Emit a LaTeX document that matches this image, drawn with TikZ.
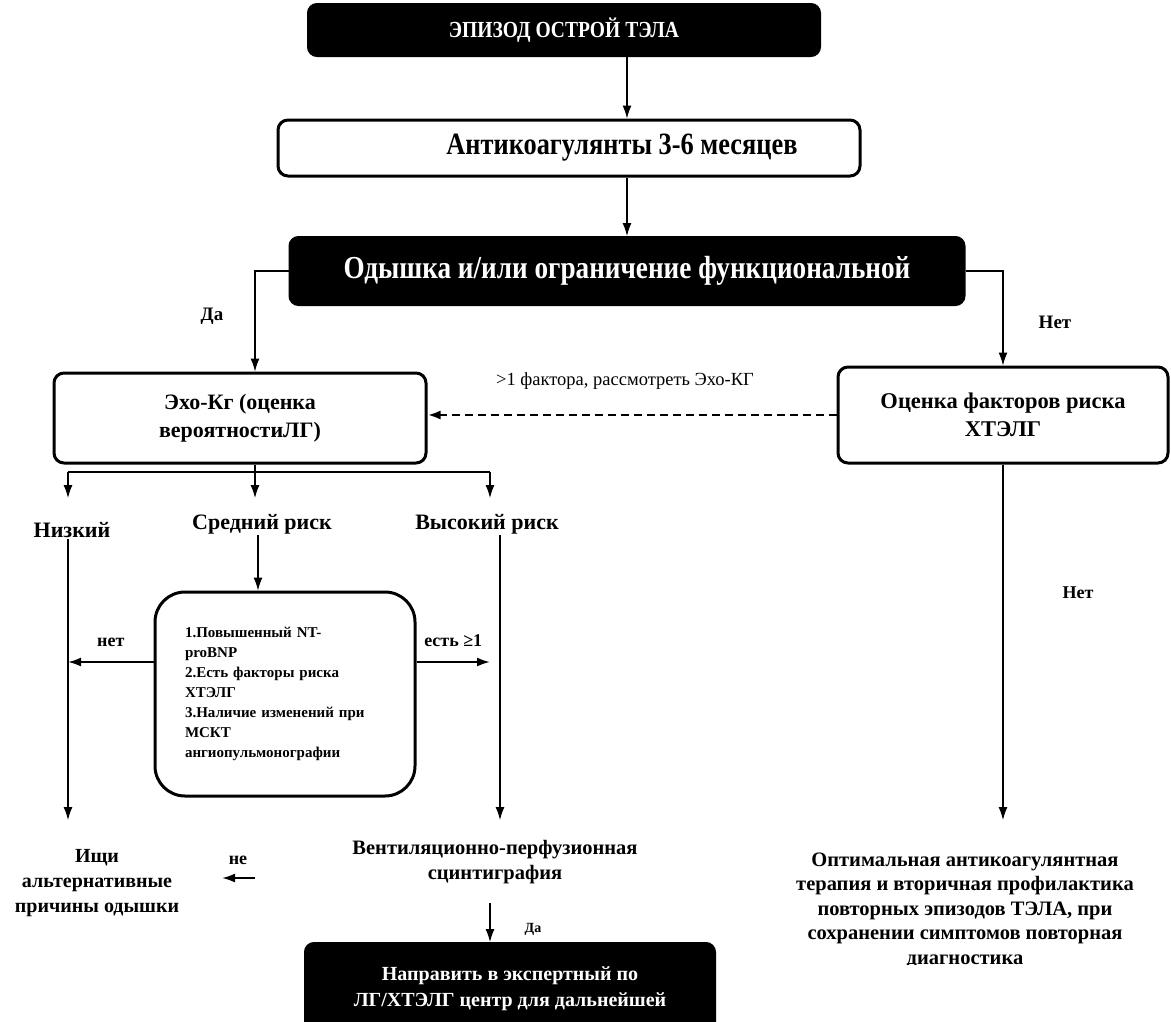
\documentclass[tikz,border=0pt]{standalone}
\usepackage{fontspec}
\setmainfont{Liberation Serif}
\newfontfamily\narrowfont{Liberation Serif}[FakeStretch=0.85]
\usetikzlibrary{calc,arrows.meta,positioning}

\begin{document}
\begin{tikzpicture}[x=1pt,y=-1pt,
  blackbox/.style={draw,fill=black,text=white,rounded corners=9pt,line width=2pt,align=center},
  whitebox/.style={draw,rounded corners=10pt,line width=3pt,align=center},
  arr/.style={-{Latex[length=13pt,width=9pt]},line width=1.2pt},
  lbl/.style={align=center,inner sep=1pt}]
  \useasboundingbox (0,0) rectangle (1171,1021);
  \clip (0,0) rectangle (1171,1021);

  %% Columns and rows used by the connectors
  \coordinate (spine) at (627,0);
  \coordinate (yesx)  at (255,0);
  \coordinate (nox)   at (1003,0);
  \coordinate (midx)  at (258,0);
  \coordinate (ventx) at (490,0);
  \coordinate (sider) at (0,662);

  %% Top of the chart
  \node[blackbox,minimum width=512,minimum height=52,font=\fontsize{23}{26}\selectfont\narrowfont\bfseries] (tela) at (564,30) {ЭПИЗОД ОСТРОЙ ТЭЛА};
  \node[whitebox,minimum width=582,minimum height=56] (anti) at (569,148) {};
  \node[lbl,font=\fontsize{31}{33}\selectfont\narrowfont\bfseries] (antitext) at (622,148) {Антикоагулянты 3-6 месяцев};
  \node[blackbox,minimum width=675,minimum height=68,font=\fontsize{32}{34}\selectfont\narrowfont\bfseries] (dysp) at (627,271) {Одышка и/или ограничение функциональной};
  \draw[arr] (tela.south -| spine) -- (anti.north -| spine);
  \draw[arr] (anti.south -| spine) -- (dysp.north -| spine);

  %% Yes / no branches
  \node[whitebox,minimum width=372,minimum height=90,font=\fontsize{22}{28}\selectfont\bfseries] (echo) at (240,418) {Эхо-Кг (оценка\\вероятностиЛГ)};
  \node[whitebox,minimum width=330,minimum height=96,font=\fontsize{22.5}{28}\selectfont\bfseries] (risk) at (1003,415) {Оценка факторов риска\\ХТЭЛГ};
  \draw[arr] (dysp.west) -| (echo.north -| yesx);
  \draw[arr] (dysp.east) -| (risk.north -| nox);
  \node[lbl,font=\fontsize{19}{20}\selectfont\bfseries] (da1) at (212,316) {Да};
  \node[lbl,font=\fontsize{19}{20}\selectfont\bfseries] (net1) at (1055,322) {Нет};
  \draw[arr,dash pattern=on 8pt off 5pt,line width=2.5pt] (risk.west) -- (risk.west -| echo.east);
  \node[lbl,font=\fontsize{18.5}{21}\selectfont] (dashlbl) at (625,381) {>1 фактора, рассмотреть Эхо-КГ};

  %% Fork under the echo box
  \coordinate (forkL) at (68,472);
  \coordinate (forkR) at (490,472);
  \draw[line width=2.5pt] (forkL) -- (forkR);
  \foreach \c in {forkL,forkR}
  {
    \draw[arr] (\c) -- ++(0,26);
  }
  \draw[arr] (echo.south -| yesx) -- (yesx |- 0,498);

  \node[lbl,font=\fontsize{22}{24}\selectfont\bfseries] (low)  at (72,530)  {Низкий};
  \node[lbl,font=\fontsize{22}{24}\selectfont\bfseries] (mid)  at (262,524) {Средний риск};
  \node[lbl,font=\fontsize{22}{24}\selectfont\bfseries] (high) at (487,524) {Высокий риск};

  \coordinate (lowend)  at (68,820);
  \coordinate (highend) at (500,820);
  \draw[arr] (low.south -| lowend) -- (lowend);
  \draw[arr] (high.south -| highend) -- (highend);

  %% Intermediate risk criteria
  \node[whitebox,rounded corners=30pt,minimum width=260,minimum height=204,text width=200,align=left,
        font=\fontsize{15}{20}\selectfont\bfseries] (crit) at (285,694)
    {1.Повышенный NT-\\proBNP\\2.Есть факторы риска\\ХТЭЛГ\\3.Наличие изменений при\\МСКТ\\ангиопульмонографии};
  \draw[arr] (mid.south -| midx) -- (crit.north -| midx);
  \draw[arr,line width=2pt] (crit.west |- sider) -- (sider -| lowend) node[lbl,midway,above=13pt,font=\fontsize{18}{20}\selectfont\bfseries] (nolbl) {нет};
  \draw[arr,line width=2pt] (crit.east |- sider) -- (sider -| forkR) node[lbl,midway,above=13pt,font=\fontsize{18}{20}\selectfont\bfseries] (yeslbl) {есть ≥1};

  %% Bottom row
  \node[lbl,font=\fontsize{20}{25}\selectfont\bfseries] (alt) at (97,883) {Ищи\\альтернативные\\причины одышки};
  \node[lbl,font=\fontsize{18}{20}\selectfont\bfseries] (ne) at (238,860) {не};
  \coordinate (neA) at (255,878);
  \coordinate (neB) at (222,878);
  \draw[arr,line width=2pt] (neA) -- (neB);

  \node[lbl,font=\fontsize{20.5}{25}\selectfont\bfseries] (vent) at (495,862) {Вентиляционно-перфузионная\\сцинтиграфия};
  \node[blackbox,minimum width=410,minimum height=92,font=\fontsize{20}{26}\selectfont\bfseries] (expert) at (510,989)
    {Направить в экспертный по\\ЛГ/ХТЭЛГ центр для дальнейшей};
  \draw[arr] ($(vent.south -| ventx)+(0,18)$) -- (expert.north -| ventx);
  \node[lbl,font=\fontsize{14}{17}\selectfont\bfseries] (da2) at (533,929) {Да};

  \coordinate (optend) at (1003,820);
  \draw[arr] (risk.south -| nox) -- (optend);
  \node[lbl,font=\fontsize{18}{20}\selectfont\bfseries] (net2) at (1078,593) {Нет};
  \begin{scope}
    \clip (700,830) rectangle (1171,964);
    \node[lbl,font=\fontsize{20.5}{24.5}\selectfont\bfseries] (opt) at (965,910)
      {Оптимальная антикоагулянтная\\терапия и вторичная профилактика\\повторных эпизодов ТЭЛА, при\\сохранении симптомов повторная\\диагностика};
  \end{scope}
\end{tikzpicture}
\end{document}
